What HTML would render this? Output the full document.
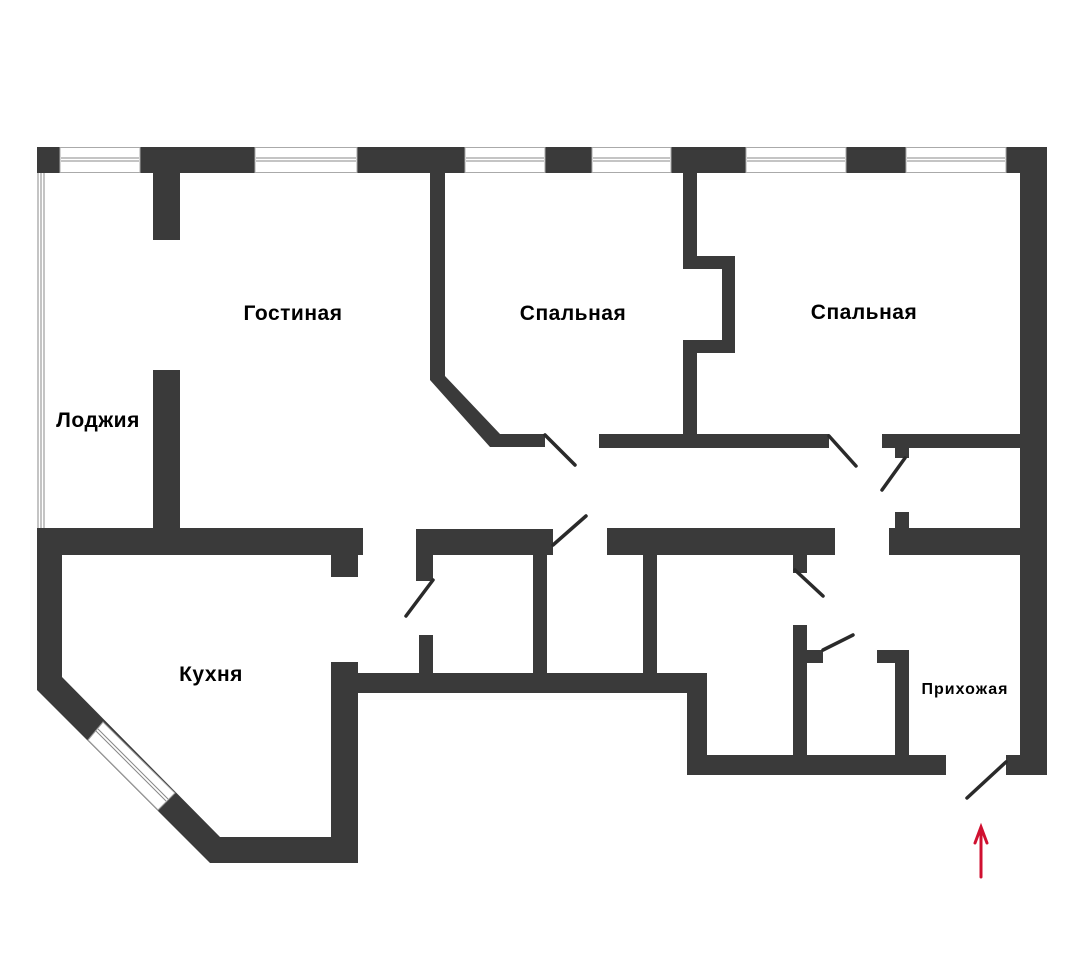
<!DOCTYPE html>
<html><head><meta charset="utf-8"><style>
html,body{margin:0;padding:0;background:#fff;}
svg{display:block;}
text{font-family:"Liberation Sans","DejaVu Sans",sans-serif;font-weight:bold;fill:#000;}
</style></head><body>
<svg width="1080" height="969" viewBox="0 0 1080 969" xmlns="http://www.w3.org/2000/svg">
<rect width="1080" height="969" fill="#fff"/>
<g fill="#3a3a3a">
<rect x="37" y="147" width="23" height="26"/>
<rect x="140" y="147" width="115" height="26"/>
<rect x="357" y="147" width="108" height="26"/>
<rect x="545" y="147" width="47" height="26"/>
<rect x="671" y="147" width="75" height="26"/>
<rect x="846" y="147" width="60" height="26"/>
<rect x="1006" y="147" width="41" height="26"/>
<rect x="1020" y="147" width="27" height="628"/>
<rect x="1006" y="755" width="41" height="20"/>
<rect x="153" y="173" width="27" height="67"/>
<rect x="153" y="370" width="27" height="158"/>
<rect x="37" y="528" width="326" height="27"/>
<rect x="331" y="555" width="27" height="22"/>
<polygon points="37,555 62,555 62,677 220,837 331,837 331,662 358,662 358,863 210,863 37,690"/>
<rect x="358" y="673" width="349" height="20"/>
<rect x="687" y="673" width="20" height="102"/>
<rect x="687" y="755" width="259" height="20"/>
<rect x="416" y="529" width="137" height="26"/>
<rect x="416" y="555" width="17" height="26"/>
<rect x="419" y="635" width="14" height="38"/>
<rect x="533" y="555" width="14" height="118"/>
<rect x="607" y="528" width="228" height="27"/>
<rect x="643" y="555" width="14" height="118"/>
<rect x="793" y="555" width="14" height="18"/>
<rect x="793" y="625" width="14" height="130"/>
<rect x="807" y="650" width="16" height="13"/>
<rect x="877" y="650" width="32" height="13"/>
<rect x="895" y="650" width="14" height="105"/>
<rect x="889" y="528" width="131" height="27"/>
<rect x="895" y="512" width="14" height="16"/>
<rect x="882" y="434" width="138" height="14"/>
<rect x="895" y="448" width="14" height="10"/>
<rect x="599" y="434" width="230" height="14"/>
<polygon points="683,173 697,173 697,256 735,256 735,353 697,353 697,434 683,434 683,340 722,340 722,269 683,269"/>
<polygon points="430,173 445,173 445,376 500,434 545,434 545,447 490,447 430,380"/>
</g>
<g fill="#fff" stroke="#aaa" stroke-width="1">
<rect x="60" y="147.5" width="80" height="25"/>
<rect x="255" y="147.5" width="102" height="25"/>
<rect x="465" y="147.5" width="80" height="25"/>
<rect x="592" y="147.5" width="79" height="25"/>
<rect x="746" y="147.5" width="100" height="25"/>
<rect x="906" y="147.5" width="100" height="25"/>
</g>
<g stroke="#888" stroke-width="1" fill="none">
<path d="M61 158H139M61 161H139M256 158H356M256 161H356M466 158H544M466 161H544M593 158H670M593 161H670M747 158H845M747 161H845M907 158H1005M907 161H1005"/>
<path d="M38 173V528M41 173V528M44 173V528"/>
</g>
<polygon points="88,740 103,722 175,793 158,810" fill="#fff" stroke="#999" stroke-width="1"/>
<path d="M96 731 L166 801 M98 729 L168 799" stroke="#888" stroke-width="1"/>
<g stroke="#2a2a2a" stroke-width="3.5" stroke-linecap="round">
<line x1="545" y1="435" x2="575" y2="465"/>
<line x1="829" y1="436" x2="856" y2="466"/>
<line x1="905" y1="458" x2="882" y2="490"/>
<line x1="553" y1="545" x2="586" y2="516"/>
<line x1="433" y1="580" x2="406" y2="616"/>
<line x1="795" y1="570" x2="823" y2="596"/>
<line x1="823" y1="650" x2="853" y2="635"/>
<line x1="1006" y1="762" x2="967" y2="798"/>
</g>
<g stroke="#d01030" stroke-width="3" fill="none" stroke-linecap="round">
<line x1="981" y1="877" x2="981" y2="828"/>
<path d="M975 843 L981 827 L987 843"/>
</g>
<text x="293" y="320" font-size="21" letter-spacing="0.5" text-anchor="middle">Гостиная</text>
<text x="573" y="320" font-size="21" letter-spacing="0.5" text-anchor="middle">Спальная</text>
<text x="864" y="319" font-size="21" letter-spacing="0.5" text-anchor="middle">Спальная</text>
<text x="98" y="427" font-size="21" letter-spacing="0.5" text-anchor="middle">Лоджия</text>
<text x="211" y="681" font-size="21" letter-spacing="0.5" text-anchor="middle">Кухня</text>
<text x="965" y="694" font-size="16" letter-spacing="1" text-anchor="middle">Прихожая</text>
</svg>
</body></html>
